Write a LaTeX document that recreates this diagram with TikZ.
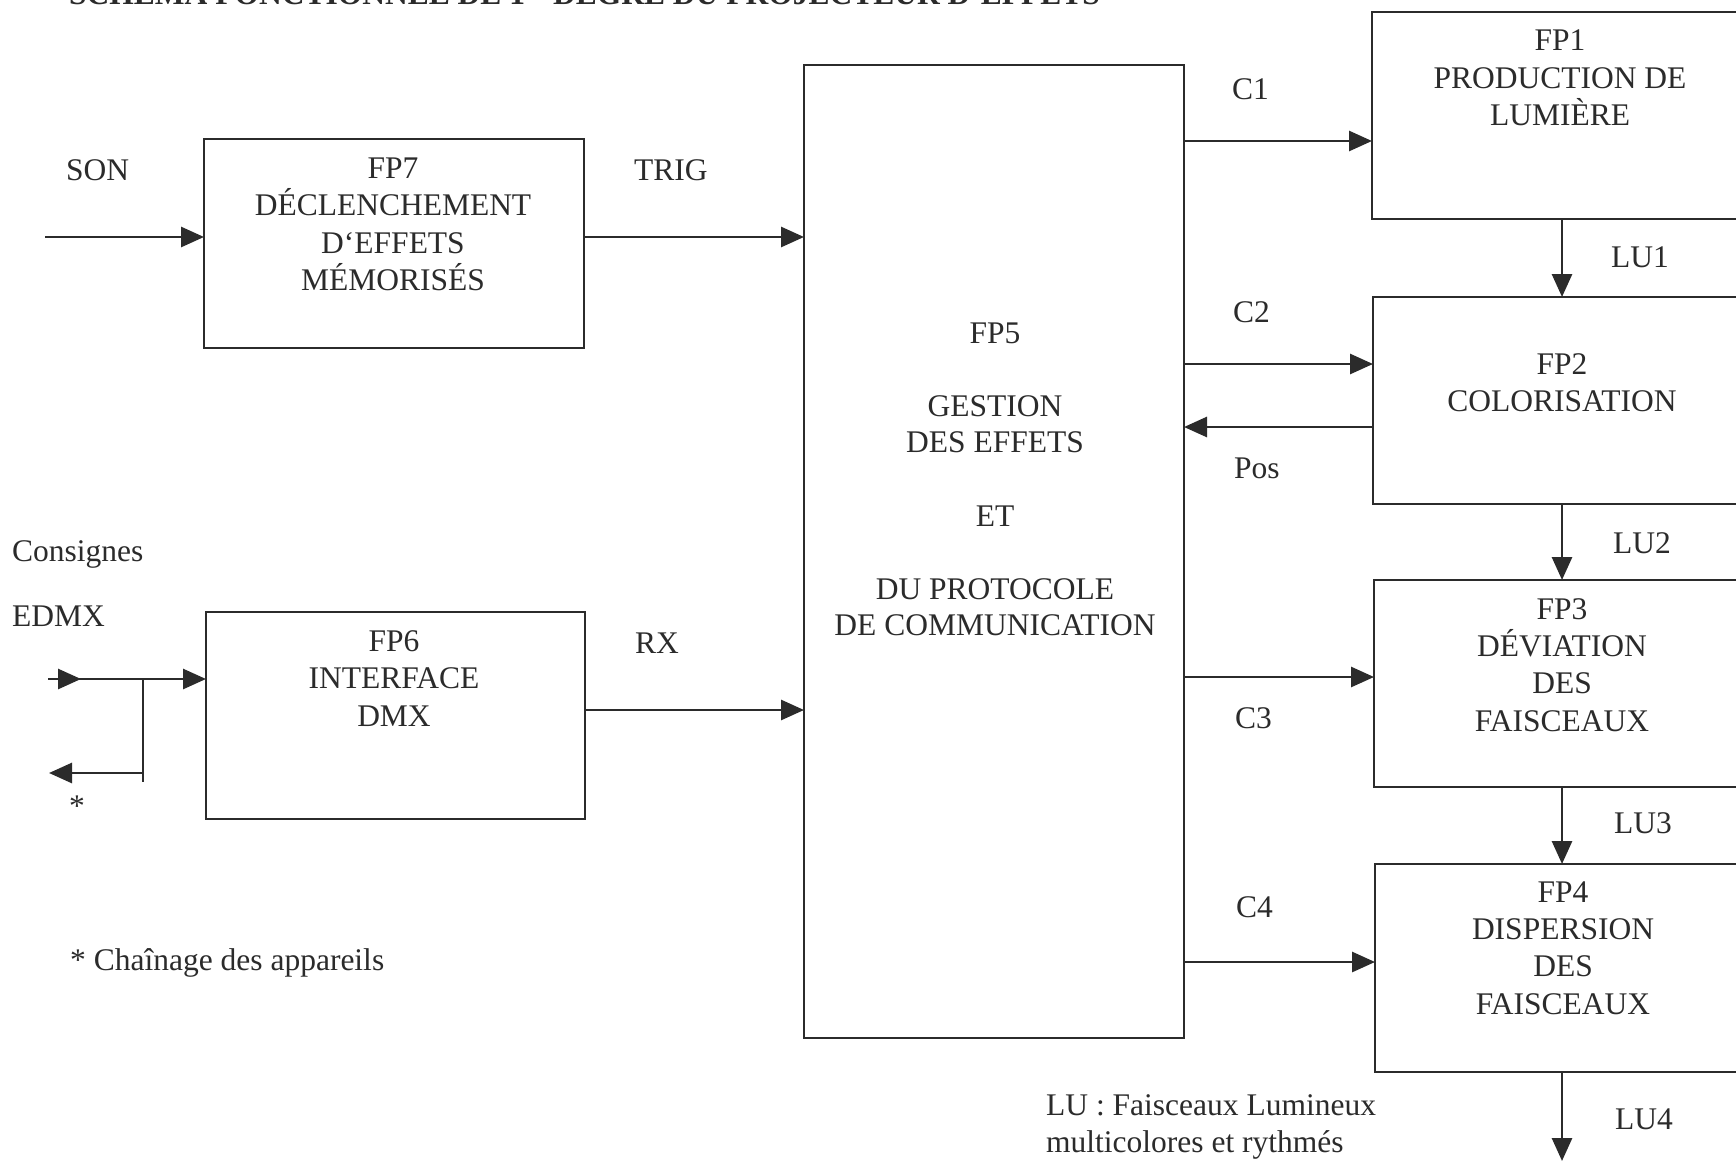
\documentclass[tikz,border=0pt]{standalone}
\usepackage{fontspec}
\setmainfont{Liberation Serif}
\usetikzlibrary{arrows.meta,calc}
\definecolor{ink}{HTML}{2B2B2B}
\begin{document}
\begin{tikzpicture}[x=1pt,y=-1pt,
  box/.style={draw=ink,line width=2.8pt,rectangle,inner sep=0pt,outer sep=0pt},
  lbl/.style={text=ink,font=\fontsize{31.5}{37.5}\selectfont,inner sep=0pt,anchor=base west},
  blk/.style={text=ink,font=\fontsize{31.5}{37.5}\selectfont,inner sep=0pt,align=center,anchor=base},
  arr/.style={draw=ink,line width=2.8pt,-{Triangle[length=23pt,width=20pt]}},
  wire/.style={draw=ink,line width=2.8pt}]
\useasboundingbox (0,0) rectangle (1736,1161);
\clip (0,0) rectangle (1736,1161);
\fill[white] (0,0) rectangle (1736,1161);

% title (cut by the top edge)
\node[anchor=base west,inner sep=0pt,text=ink,font=\bfseries\fontsize{31.5}{37}\selectfont] (title) at (69,5)
  {SCHÉMA FONCTIONNEL DE 1\textsuperscript{er} DEGRÉ DU PROJECTEUR D’EFFETS};

% boxes
\node[box,minimum width=380pt,minimum height=209pt] (fp7) at (394,243.5) {};
\node[box,minimum width=379pt,minimum height=207pt] (fp6) at (395.5,715.5) {};
\node[box,minimum width=380pt,minimum height=973pt] (fp5) at (994,551.5) {};
\node[box,minimum width=378pt,minimum height=207pt] (fp1) at (1561,115.5) {};
\node[box,minimum width=377pt,minimum height=207pt] (fp2) at (1561.5,400.5) {};
\node[box,minimum width=376pt,minimum height=207pt] (fp3) at (1562,683.5) {};
\node[box,minimum width=375pt,minimum height=208pt] (fp4) at (1562.5,968) {};

% box texts (base anchor = baseline of the last line)
\node[blk] (fp7t) at (393,290.5) {FP7\\DÉCLENCHEMENT\\D‘EFFETS\\MÉMORISÉS};
\node[blk] (fp6t) at (394,726) {FP6\\INTERFACE\\DMX};
\node[blk,font=\fontsize{31.5}{36.6}\selectfont] (fp5t) at (995,635.8)
  {FP5\\[36.6pt]GESTION\\DES EFFETS\\[36.6pt]ET\\[36.6pt]DU PROTOCOLE\\DE COMMUNICATION};
\node[blk] (fp1t) at (1560,126) {FP1\\PRODUCTION DE\\LUMIÈRE};
\node[blk] (fp2t) at (1562,411.5) {FP2\\COLORISATION};
\node[blk,font=\fontsize{31.5}{37.3}\selectfont] (fp3t) at (1562,731) {FP3\\DÉVIATION\\DES\\FAISCEAUX};
\node[blk,font=\fontsize{31.5}{37.3}\selectfont] (fp4t) at (1563,1014) {FP4\\DISPERSION\\DES\\FAISCEAUX};

% helper coordinates
\coordinate (sonin) at (45,237);
\coordinate (yrx) at (0,710);
\coordinate (yc1) at (0,141);
\coordinate (yc2) at (0,364);
\coordinate (ypos) at (0,427);
\coordinate (yc3) at (0,677);
\coordinate (yc4) at (0,962);
\coordinate (lux) at (1562,0);
\coordinate (luout) at (1562,1161);
\coordinate (edin) at (48,679);
\coordinate (edmid) at (81,679);
\coordinate (br) at (143,679);
\coordinate (brend) at (143,782);
\coordinate (brout) at (49,773);

% connectors
\draw[arr] (sonin) -- (fp7.west |- sonin);
\draw[arr] (fp7.east |- sonin) -- (fp5.west |- sonin);
\draw[arr] (fp6.east |- yrx) -- (fp5.west |- yrx);
\draw[arr] (edin) -- (fp6.west |- edin);
\draw[arr] (edin) -- (edmid);
\draw[wire] (br) -- (brend);
\draw[arr] (brend |- brout) -- (brout);
\draw[arr] (fp5.east |- yc1) -- (fp1.west |- yc1);
\draw[arr] (fp5.east |- yc2) -- (fp2.west |- yc2);
\draw[arr] (fp2.west |- ypos) -- (fp5.east |- ypos);
\draw[arr] (fp5.east |- yc3) -- (fp3.west |- yc3);
\draw[arr] (fp5.east |- yc4) -- (fp4.west |- yc4);
\draw[arr] (fp1.south -| lux) -- (fp2.north -| lux);
\draw[arr] (fp2.south -| lux) -- (fp3.north -| lux);
\draw[arr] (fp3.south -| lux) -- (fp4.north -| lux);
\draw[arr] (fp4.south -| lux) -- (luout);

% labels
\node[lbl] (son) at (66,181) {SON};
\node[lbl] (trig) at (634,181) {TRIG};
\node[lbl] (rx) at (635,653) {RX};
\node[lbl] (consignes) at (12,561) {Consignes};
\node[lbl] (edmx) at (12,626) {EDMX};
\node[text=ink,font=\fontsize{31.5}{37.5}\selectfont,inner sep=0pt] (star) at (77,806) {*};
\node[lbl] (chain) at (70,970) {* Chaînage des appareils};
\node[lbl] (c1) at (1232,100) {C1};
\node[lbl] (c2) at (1233,322) {C2};
\node[lbl] (pos) at (1234,478) {Pos};
\node[lbl] (c3) at (1235,728) {C3};
\node[lbl] (c4) at (1236,917) {C4};
\node[lbl] (lu1) at (1611,267) {LU1};
\node[lbl] (lu2) at (1613,553) {LU2};
\node[lbl] (lu3) at (1614,833) {LU3};
\node[lbl] (lu4) at (1615,1129) {LU4};
\node[lbl,align=left,font=\fontsize{31.5}{37}\selectfont] (legend) at (1046,1152) {LU : Faisceaux Lumineux\\multicolores et rythmés};
\end{tikzpicture}
\end{document}
